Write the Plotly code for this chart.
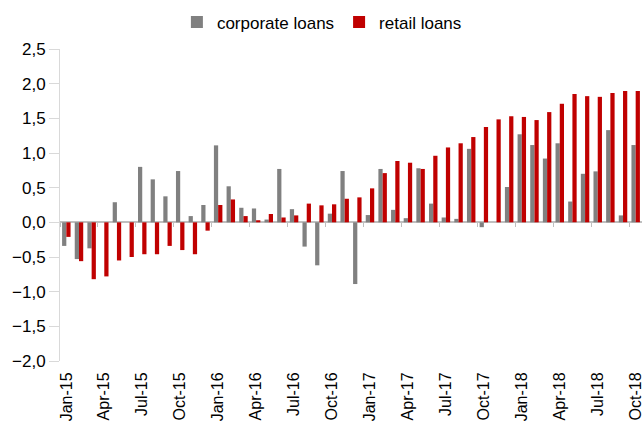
import plotly.graph_objects as go

mon = ["Jan", "Feb", "Mar", "Apr", "May", "Jun", "Jul", "Aug", "Sep", "Oct", "Nov", "Dec"]
months = [f"{m}-{y}" for y in ["15", "16", "17", "18"] for m in mon][:46]

corporate = [-0.34, -0.53, -0.375, 0.0, 0.29, 0.0, 0.80, 0.62, 0.375, 0.74, 0.09, 0.25,
             1.11, 0.52, 0.21, 0.20, 0.04, 0.77, 0.19, -0.35, -0.62, 0.125, 0.74, -0.89,
             0.105, 0.77, 0.18, 0.06, 0.78, 0.27, 0.07, 0.05, 1.06, -0.07, 0.0, 0.51,
             1.27, 1.115, 0.92, 1.14, 0.30, 0.70, 0.735, 1.33, 0.10, 1.115]
retail = [-0.21, -0.56, -0.82, -0.78, -0.55, -0.50, -0.46, -0.46, -0.34, -0.40, -0.46, -0.12,
          0.25, 0.33, 0.09, 0.03, 0.12, 0.07, 0.10, 0.27, 0.245, 0.26, 0.34, 0.36,
          0.49, 0.71, 0.885, 0.86, 0.77, 0.96, 1.08, 1.14, 1.23, 1.375, 1.485, 1.53,
          1.52, 1.475, 1.59, 1.71, 1.85, 1.82, 1.81, 1.865, 1.895, 1.895]

fig = go.Figure()
fig.add_trace(go.Bar(x=months, y=corporate, name="corporate loans",
                     marker=dict(color="#808080", line=dict(width=0))))
fig.add_trace(go.Bar(x=months, y=retail, name="retail loans",
                     marker=dict(color="#C00000", line=dict(width=0))))
# invisible trace to carry the tick axis at zero
fig.add_trace(go.Scatter(x=months, y=[0] * len(months), xaxis="x2", mode="lines",
                         line=dict(width=0), showlegend=False, hoverinfo="skip"))

font = "Liberation Sans, Arial, sans-serif"
fig.update_layout(
    width=642, height=426,
    margin=dict(l=60, r=0, t=49, b=65, autoexpand=False),
    paper_bgcolor="white", plot_bgcolor="white",
    separators=", ",
    barmode="group", bargap=0.33, bargroupgap=0,
    font=dict(family=font, size=17, color="#000000"),
    legend=dict(orientation="h", x=0.45, xanchor="center", y=1.085, yanchor="middle",
                font=dict(size=17), itemwidth=30, tracegroupgap=0),
    xaxis=dict(type="category", categoryarray=months, range=[-0.5, 45.5],
               tickmode="linear", tick0=0, dtick=3, tickangle=-90,
               ticks="outside", ticklen=4, tickcolor="rgba(0,0,0,0)",
               showline=False, showgrid=False, zeroline=False,
               tickfont=dict(size=16), automargin=False),
    xaxis2=dict(type="category", categoryarray=months, range=[-0.5, 45.5],
                overlaying="x", anchor="free", position=2 / 4.5, side="bottom",
                tickmode="linear", tick0=0, dtick=3, tickson="boundaries",
                ticks="outside", ticklen=4, tickcolor="#bfbfbf", tickwidth=1,
                showticklabels=False, showline=False, showgrid=False, zeroline=False),
    yaxis=dict(range=[-2.0, 2.5], dtick=0.5, tickformat=".1f",
               showline=True, linecolor="#d9d9d9", linewidth=1,
               ticks="outside", ticklen=10, tickcolor="#d9d9d9",
               showgrid=False, zeroline=True, zerolinecolor="#bfbfbf", zerolinewidth=1.5,
               tickfont=dict(size=17), automargin=False),
)

fig.write_html("out.html", config={"displayModeBar": False},
               post_script="document.body.style.margin='0';")
